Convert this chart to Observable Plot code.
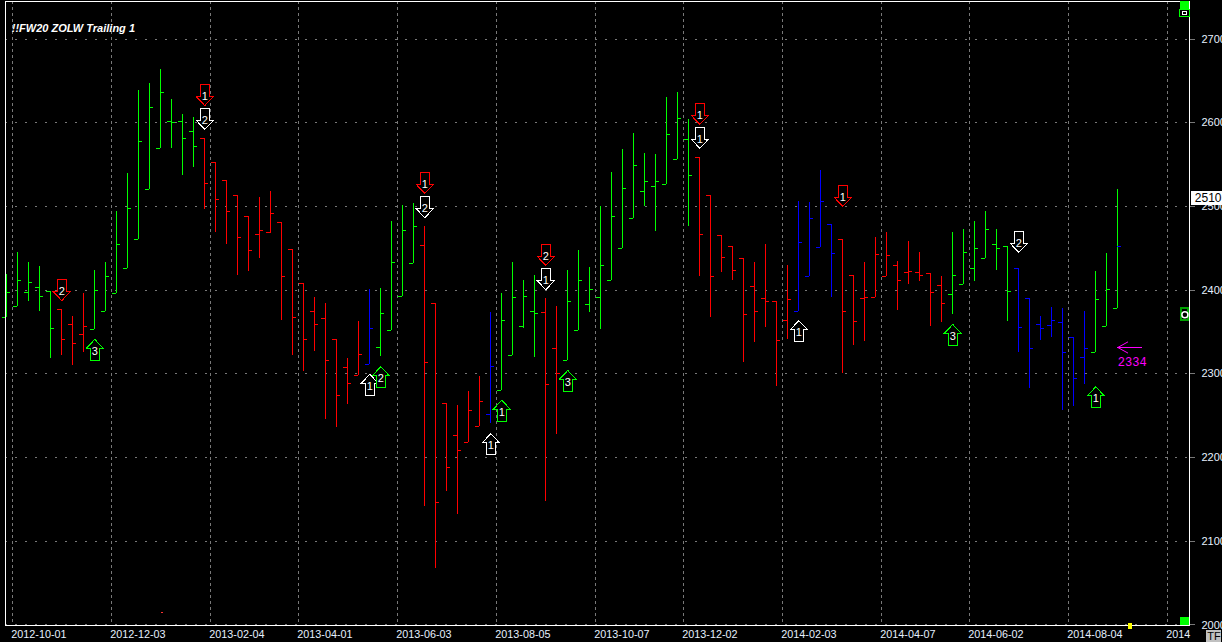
<!DOCTYPE html>
<html>
<head>
<meta charset="utf-8">
<style>
html,body{margin:0;padding:0;background:#000;overflow:hidden}
svg{display:block}
</style>
<script src="https://cdn.jsdelivr.net/npm/d3@7"></script>
<script src="https://cdn.jsdelivr.net/npm/@observablehq/plot@0.6"></script>
</head>
<body>
<div id="chart"></div>
<script>
const highs=[2419,2445,2433,2428,2398,2377,2368,2396,2424,2433,2494,2539.5,2639,2647,2664,2628,2610,2606,2581,2553,2531,2513,2488,2511,2518,2481,2448,2408,2391,2384,2341,2318.5,2362,2400.5,2402,2482,2501,2504,2476,2384,2264,2262,2279,2297,2373,2396,2433,2412,2417,2390,2381,2424,2447,2427,2500,2541,2568,2587,2563,2562,2630,2636,2603.5,2558,2513,2465,2452,2437.5,2433,2455,2387,2429,2505.5,2504.5,2542.6,2478,2460,2417,2433,2463,2469,2434,2458,2445,2420,2416,2469,2473,2482,2494,2472,2452,2426,2390,2369,2379,2378,2344,2374,2422,2443.5,2520];
const lows=[2367,2381,2386,2375,2318,2322,2310,2326,2353,2375,2396,2426,2461,2520,2569,2569,2537,2546,2496,2469,2455,2417,2422,2438,2468,2364,2322,2303,2327,2245,2236,2263,2298,2311,2321,2351.5,2392,2432,2141,2067,2159,2132.5,2218,2237,2241,2280,2322,2354,2319,2147,2227,2316,2351.5,2373,2353.5,2411,2449.5,2485,2500,2470.5,2526,2556,2476.5,2416,2367,2421.5,2411,2313,2338,2355,2285,2341.5,2375,2416,2450.6,2391,2300,2333.5,2339,2391,2416,2376,2407,2410,2357,2361,2371,2406.5,2410,2437.5,2423,2362,2326,2282,2340,2344,2256,2261.5,2287,2325,2356,2378];
const opens=[2367,2381,2397,2403,2398,2377,2359,2347,2353,2375,2396,2426,2461,2520,2569,2602,2601,2590,2581,2553,2531,2513,2488,2467,2469,2481,2448,2408,2374,2366,2341,2307,2298,2311,2332,2351.5,2392,2432,2453,2384,2264,2226,2218,2237,2252,2280,2322,2356,2374,2373,2330,2316,2351.5,2382.5,2391,2411,2449.5,2485,2517.5,2523.5,2526,2556,2580,2558,2513,2465,2452,2437.5,2404,2390,2387,2363.5,2375,2416,2450.6,2478,2460,2417,2390,2391,2416,2429,2421,2421,2420,2405,2394.5,2406.5,2426,2437.5,2455,2452,2426,2390,2359,2357.5,2361,2344,2319,2325,2356,2378];
const closes=[2397,2412,2409,2392,2354,2341,2336,2357,2399,2416,2455,2498,2578,2618,2636,2600,2581,2571,2527,2508,2494,2463,2447,2471,2492,2416,2367,2341,2359,2316,2274,2289,2323,2354,2372,2433,2471,2476,2313,2146,2188,2208,2256,2267,2308.5,2363.5,2391,2393,2372,2287,2301,2387,2412,2400.5,2430,2488,2522,2548.5,2529.5,2529.5,2586,2605,2537,2467,2416,2439,2423,2370.5,2374,2386,2339.5,2388.5,2456.5,2485,2505.5,2443.5,2374,2362,2391,2442,2441,2412,2422,2418,2397,2384,2417,2445,2449.5,2472,2449.5,2398,2355,2330,2354,2363.5,2325,2295,2330,2389,2400.5,2452];
const trendRuns=[["g",5],["r",3],["g",10],["r",15],["b",1],["g",4],["r",6],["b",1],["g",4],["r",2],["g",12],["r",9],["b",4],["r",10],["g",6],["b",7],["g",3]];
const trendColors={g:"#00ff00",r:"#ff0000",b:"#0000ff"};

const yTicks=[2000,2100,2200,2300,2400,2500,2600,2700];
const dateGrid=[0.5,9.5,18.5,26.5,35.5,44.5,53.5,61.5,70.5,79.5,87.5,96.5,105.5];
const dateLabels=["2012-10-01","2012-12-03","2013-02-04","2013-04-01","2013-06-03","2013-08-05","2013-10-07","2013-12-02","2014-02-03","2014-04-07","2014-06-02","2014-08-04","2014"];

const arrowBar=[5,8,18,18,33,34,38,38,49,49,44,45,51,63,63,72,76,86,92,99];
const arrowPrice=[2400,2328.6,2633,2604.5,2287,2296,2528,2499,2442,2413,2216,2256,2291.5,2610.5,2582,2351,2512.5,2346.5,2457.6,2272];
const arrowDir=["d","u","d","d","u","u","d","d","d","d","u","u","u","d","d","u","d","u","d","u"];
const arrowColor=["#ff0000","#00ff00","#ff0000","#ffffff","#ffffff","#00ff00","#ff0000","#ffffff","#ff0000","#ffffff","#ffffff","#00ff00","#00ff00","#ff0000","#ffffff","#ffffff","#ff0000","#00ff00","#ffffff","#00ff00"];
const arrowLabel=["2","3","1","2","1","2","1","2","2","1","1","1","3","1","1","1","1","3","2","1"];

const lastPrice=2510;
const targetPrice=2331.5;
const targetLabel="2334";
const chartTitle="!!FW20 ZOLW Trailing 1";

const trend=trendRuns.flatMap(([k,n])=>Array(n).fill(trendColors[k]));
const bars=highs.map((h,i)=>({i,high:h,low:lows[i],open:opens[i],close:closes[i],color:trend[i]}));
const arrows=arrowBar.map((b,k)=>({bar:b,price:arrowPrice[k],dir:arrowDir[k],color:arrowColor[k],label:arrowLabel[k]}));

function arrowSymbol(sign){
  return {draw(ctx){
    const s=sign;
    ctx.moveTo(-4.5,-10.5*s);
    ctx.lineTo(4.5,-10.5*s);
    ctx.lineTo(4.5,1.5*s);
    ctx.lineTo(8.5,1.5*s);
    ctx.lineTo(0,10.5*s);
    ctx.lineTo(-8.5,1.5*s);
    ctx.lineTo(-4.5,1.5*s);
    ctx.closePath();
  }};
}
const crisp={shapeRendering:"crispEdges"};
const tickLen=0.37;
const labelColor="#e6f0ff";
const gridColor="#787878";

const chart=Plot.plot({
  width:1222,height:642,
  marginLeft:4.5,marginRight:33,marginTop:1,marginBottom:17,
  style:{background:"#000",color:"#fff",fontFamily:"'Liberation Sans',Arial,sans-serif",fontSize:"11px",overflow:"hidden"},
  x:{type:"linear",domain:[-0.164,107.52],label:null},
  y:{type:"linear",domain:[1999.4,2744.8],label:null},
  color:{type:"identity"},
  marks:[
    Plot.gridY(yTicks,{stroke:gridColor,strokeOpacity:1,strokeDasharray:"2 8",...crisp}),
    Plot.gridX(dateGrid,{stroke:gridColor,strokeOpacity:1,strokeDasharray:"3 3",...crisp}),
    Plot.axisY({anchor:"right",ticks:yTicks,tickSize:5,tickPadding:7,stroke:gridColor,fill:labelColor,label:null,fontSize:11,tickFormat:d=>String(d),...crisp}),
    Plot.axisX({anchor:"bottom",ticks:dateGrid,tickSize:0,tickPadding:5,fill:labelColor,label:null,fontSize:10.8,textAnchor:"start",dx:-1,tickFormat:d=>dateLabels[dateGrid.indexOf(d)]}),
    Plot.ruleX(bars,{x:"i",y1:"low",y2:"high",stroke:"color",...crisp}),
    Plot.ruleY(bars,{y:"open",x1:d=>d.i-tickLen,x2:"i",stroke:"color",...crisp}),
    Plot.ruleY(bars,{y:"close",x1:"i",x2:d=>d.i+tickLen,stroke:d=>d.i===101?trendColors.b:d.color,...crisp}),
    Plot.dot(arrows.filter(a=>a.dir==="d"),{x:"bar",y:"price",symbol:arrowSymbol(1),r:5,stroke:"color",fill:"#000",strokeWidth:1,...crisp}),
    Plot.dot(arrows.filter(a=>a.dir==="u"),{x:"bar",y:"price",symbol:arrowSymbol(-1),r:5,stroke:"color",fill:"#000",strokeWidth:1,...crisp}),
    Plot.text(arrows,{x:"bar",y:"price",text:"label",fill:"#fff",fontFamily:"'Liberation Sans',sans-serif",fontSize:11,dy:1.5}),
    Plot.frame({stroke:"#fff",strokeWidth:1,...crisp}),
    Plot.ruleY([targetPrice],{x1:101,x2:103.27,stroke:"#ff00ff",...crisp}),
    Plot.line([[101.9,targetPrice+6.5],[101,targetPrice],[101.9,targetPrice-6.5]],{x:"0",y:"1",stroke:"#ff00ff",strokeWidth:1,curve:"linear"}),
    Plot.text([targetLabel],{x:101,y:2314,text:d=>d,textAnchor:"start",fill:"#ff00ff",fontFamily:"'Liberation Mono',monospace",fontSize:12}),
    Plot.text([chartTitle],{x:0.45,y:2712.7,text:d=>d,textAnchor:"start",fill:"#fff",fontWeight:"bold",fontStyle:"italic",fontSize:11}),
    Plot.rect([0],{x1:106.7,x2:107.52,y1:2735,y2:2744.8,fill:"#00ff00",...crisp}),
    Plot.rect([0],{x1:106.7,x2:107.52,y1:2726,y2:2735,fill:"#000",stroke:"#00ff00",...crisp}),
    Plot.rect([0],{x1:106.9,x2:107.32,y1:2728.5,y2:2732.5,fill:"#000",stroke:"#fff",...crisp}),
    Plot.rect([0],{x1:106.7,x2:107.52,y1:1999.4,y2:2009,fill:"#00ff00",...crisp}),
    Plot.rect([0],{x1:102.0,x2:102.36,y1:1994.6,y2:2001.8,fill:"#ffff00",...crisp}),
    Plot.rect([0],{x1:14.1,x2:14.2,y1:2014.2,y2:2015,fill:"#ff3030",...crisp}),
    Plot.rect([0],{x1:106.75,x2:107.45,y1:2363.5,y2:2378.5,fill:"#000",stroke:"#00a000",strokeWidth:2,...crisp}),
    Plot.dot([0],{x:107.1,y:2370.7,r:3,stroke:"#fff",fill:"#000"}),
    Plot.rect([0],{x1:107.72,x2:110.6,y1:2501.5,y2:2518,fill:"#fff",...crisp}),
    Plot.text([lastPrice],{x:108,y:lastPrice,text:d=>String(d),textAnchor:"start",fill:"#000",fontSize:12}),
    Plot.rect([0],{x1:109.07,x2:110.43,y1:1979.1,y2:1993.4,fill:"#c0c0c0",...crisp}),
    Plot.text(["TF"],{x:109.75,y:1986,text:d=>d,fill:"#000",fontSize:11})
  ]
});
document.getElementById("chart").appendChild(chart);
</script>
</body>
</html>
